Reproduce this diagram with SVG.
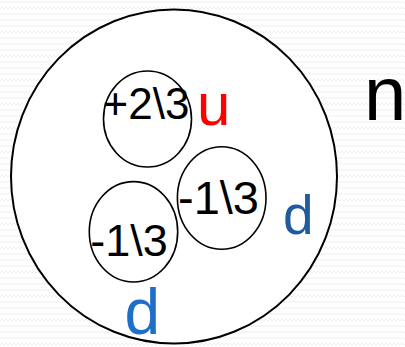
<svg xmlns="http://www.w3.org/2000/svg" width="405" height="347" viewBox="0 0 405 347">
  <defs>
    <pattern id="bg" width="8" height="6" patternUnits="userSpaceOnUse">
      <rect width="8" height="6" fill="#ffffff"/>
      <path d="M0 3 L2 1 L4 3 L6 1 L8 3" fill="none" stroke="#efefef" stroke-width="1"/>
    </pattern>
  </defs>
  <style>
    .big { fill: #ffffff; stroke: #000; stroke-width: 2; }
    .q { fill: none; stroke: #000; stroke-width: 1.6; }
    .t { font-family: "Liberation Sans", Arial, sans-serif; }
  </style>
  <rect width="405" height="347" fill="url(#bg)"/>
  <g id="neutron">
    <ellipse class="big" cx="174" cy="176.5" rx="163" ry="167"/>
    <text class="t" x="364" y="120" font-size="76" fill="#000">n</text>
  </g>
  <g id="quark-u">
    <ellipse class="q" cx="147.5" cy="119" rx="44" ry="48"/>
    <text class="t" x="102.5" y="118.5" font-size="44" fill="#000">+2\3</text>
    <text class="t" x="197" y="124.5" font-size="60" fill="#ff0000">u</text>
  </g>
  <g id="quark-d1">
    <ellipse class="q" cx="221.7" cy="198" rx="44.3" ry="51.3"/>
    <text class="t" x="178" y="214" font-size="47" fill="#000">-1\3</text>
    <text class="t" x="283" y="234" font-size="55" fill="#1f5c9e">d</text>
  </g>
  <g id="quark-d2">
    <ellipse class="q" cx="133.5" cy="231.8" rx="44.2" ry="50.2"/>
    <text class="t" x="90.2" y="255.5" font-size="45" fill="#000">-1\3</text>
    <text class="t" x="124.5" y="334" font-size="64" fill="#1e6fc8">d</text>
  </g>
  <g id="connectors"/>
</svg>
